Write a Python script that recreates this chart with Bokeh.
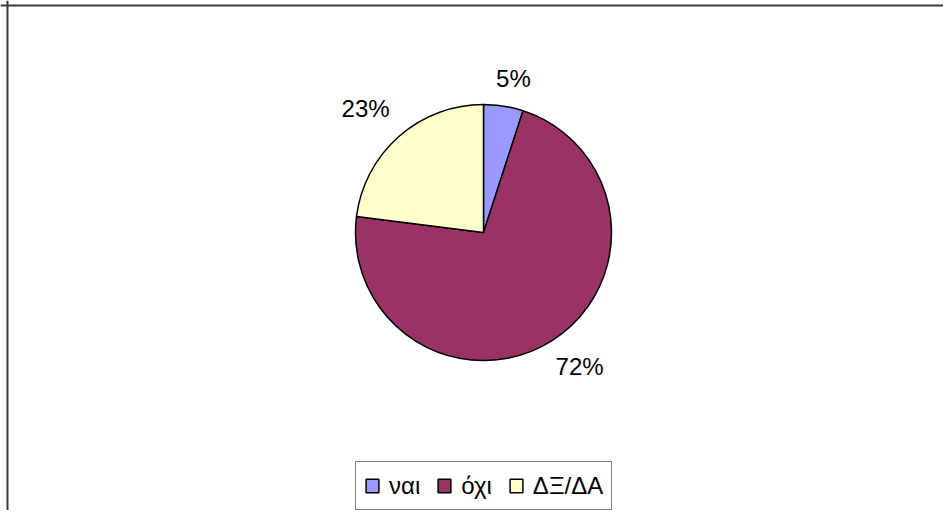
import math
from bokeh.plotting import figure
from bokeh.models import Range1d, Span, Legend, LegendItem, ColumnDataSource
from bokeh.core.properties import value
from bokeh.embed import file_html
from bokeh.resources import INLINE

# ---- data ----
categories = ["ναι", "όχι", "ΔΞ/ΔΑ"]
shares = [5, 72, 23]
label_texts = ["5%", "72%", "23%"]

# ---- style / layout ----
colors = ["#9999FF", "#993366", "#FFFFCC"]
W, H = 943, 510
cx, cy, R = 483, 278, 128
label_radius = [157, 165, 171]
label_angle_shift = [-2.0, 3.2, 2.2]   # degrees, best-fit nudges of the label anchors
FONT = "Liberation Sans"

p = figure(width=W, height=H, output_backend="svg", toolbar_location=None,
           x_range=Range1d(0, W), y_range=Range1d(0, H),
           x_axis_location=None, y_axis_location=None,
           min_border=0, outline_line_color=None,
           background_fill_color="white", border_fill_color="white")
p.xgrid.visible = False
p.ygrid.visible = False

# chart area border (left and top edges visible)
p.add_layout(Span(location=7, dimension="height", line_color="#3a3a3a", line_width=2))
p.add_layout(Span(location=H - 5, dimension="width", line_color="#3a3a3a", line_width=2))

total = sum(shares)
starts, ends, lx, ly = [], [], [], []
cum = 0.0
for i, s in enumerate(shares):
    a0 = math.pi / 2 - 2 * math.pi * cum / total
    cum += s
    a1 = math.pi / 2 - 2 * math.pi * cum / total
    starts.append(a0)
    ends.append(a1)
    mid = (a0 + a1) / 2 + math.radians(label_angle_shift[i])
    lx.append(cx + label_radius[i] * math.cos(mid))
    ly.append(cy + label_radius[i] * math.sin(mid))

src = ColumnDataSource(dict(cat=categories, share=shares, start=starts, end=ends,
                            color=colors, lx=lx, ly=ly, txt=label_texts))

p.wedge(x=cx, y=cy, radius=R, start_angle="start", end_angle="end", direction="clock",
        fill_color="color", line_color="black", line_width=1.5, source=src)

p.text(x="lx", y="ly", text="txt", source=src, text_align="center",
       text_baseline="middle", text_font=value(FONT), text_font_size="24px",
       text_color="black")

# legend swatches (renderers with no visible geometry, used only for legend glyphs)
nan = float("nan")
items = []
for cat, col in zip(categories, colors):
    r = p.quad(left=[nan], right=[nan], top=[nan], bottom=[nan], fill_color=col,
               line_color="black", line_width=1.5)
    items.append(LegendItem(label=cat, renderers=[r]))

legend = Legend(items=items, orientation="horizontal", location=(355, 0),
                glyph_width=16, glyph_height=17, label_height=31,
                padding=8, spacing=16, label_standoff=9, margin=0,
                label_text_font=FONT, label_text_font_size="24px",
                label_text_color="black",
                border_line_color="black", border_line_width=1,
                background_fill_color="white", background_fill_alpha=1)
p.add_layout(legend, "center")

open("out.html", "w").write(file_html(p, INLINE))
